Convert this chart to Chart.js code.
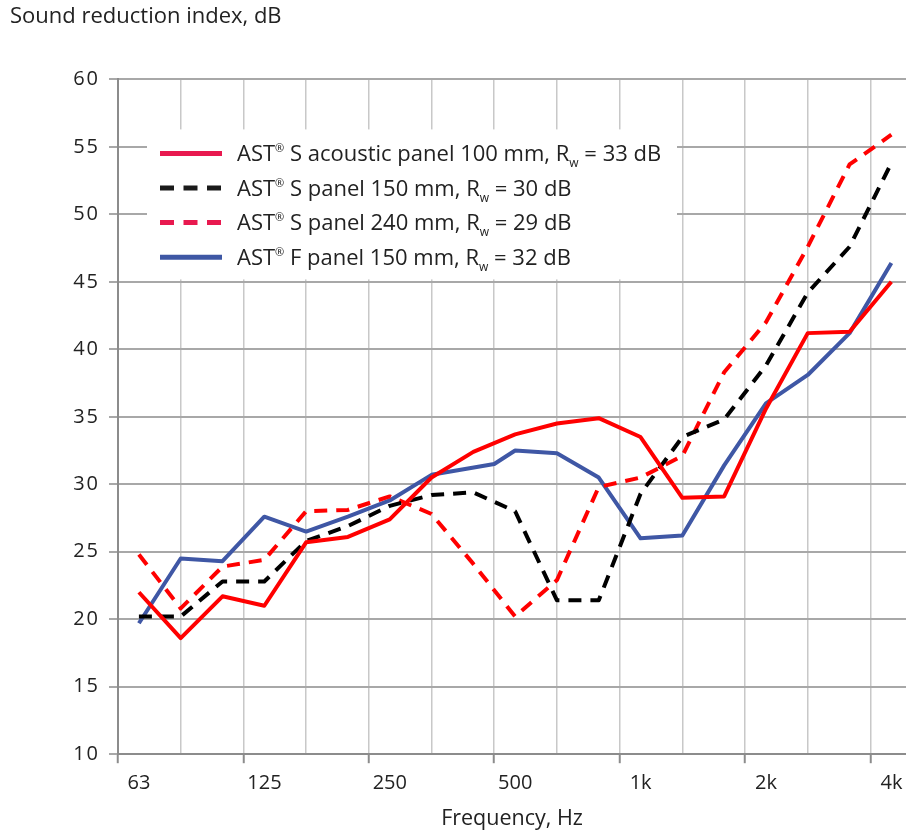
<!DOCTYPE html>
<html>
<head>
<meta charset="utf-8">
<script src="https://cdn.jsdelivr.net/npm/chart.js"></script>
<style>
  html, body { margin: 0; padding: 0; background: #fff; }
</style>
</head>
<body>
<canvas id="chart" width="906" height="832"></canvas>
<script>
// third-octave bands, index 0..18 on the x scale
const frequencies = ['63', '80', '100', '125', '160', '200', '250', '315', '400', '500',
  '630', '800', '1k', '1.25k', '1.6k', '2k', '2.5k', '3.15k', '4k'];
const octaveLabels = ['63', '125', '250', '500', '1k', '2k', '4k'];
const yTicks = [10, 15, 20, 25, 30, 35, 40, 45, 50, 55, 60];

const acoustic100 = [22.0, 18.6, 21.7, 21.0, 25.7, 26.1, 27.4, 30.5, 32.4, 33.7,
  34.5, 34.9, 33.5, 29.0, 29.1, 35.6, 41.2, 41.3, 45.0];
const panel150 = [20.2, 20.2, 22.8, 22.8, 25.8, 26.9, 28.4, 29.2, 29.4, 28.0,
  21.4, 21.4, 29.3, 33.5, 34.8, 38.8, 44.2, 47.6, 53.8];
const panel240 = [24.8, 20.8, 23.9, 24.4, 28.0, 28.1, 29.1, 27.8, 24.1, 20.2,
  22.9, 29.8, 30.5, 32.1, 38.3, 42.0, 47.6, 53.7, 55.9];
// F panel has one reading between 400 and 500 Hz
const fPanelBands = [0, 1, 2, 3, 4, 5, 6, 7, 8.5, 9, 10, 11, 12, 13, 14, 15, 16, 17, 18];
const fPanel150 = [19.7, 24.5, 24.3, 27.6, 26.5, 27.6, 28.8, 30.7, 31.5, 32.5,
  32.3, 30.5, 26.0, 26.2, 31.4, 36.0, 38.1, 41.2, 46.4];

const seriesNames = ['S acoustic panel 100 mm', 'S panel 150 mm', 'S panel 240 mm', 'F panel 150 mm'];
const ratingsRw = [33, 30, 29, 32];

const FONT = '"Open Sans", "Noto Sans", sans-serif';
const TEXT = '#222';
const DASH = [13, 9];

const points = (vals, xs) => vals.map((v, i) => ({ x: xs ? xs[i] : i, y: v }));
const labelOf = i => 'AST® ' + seriesNames[i] + ', Rw = ' + ratingsRw[i] + ' dB';

const datasets = [
  { data: points(acoustic100), borderColor: '#ff0000', borderDash: [], legendColor: '#e8194f' },
  { data: points(panel150), borderColor: '#000000', borderDash: DASH, legendColor: '#1a1a1a' },
  { data: points(panel240), borderColor: '#ff0000', borderDash: DASH, legendColor: '#e8194f' },
  { data: points(fPanel150, fPanelBands), borderColor: '#3f57a5', borderDash: [], legendColor: '#3e57a4' }
].map((d, i) => Object.assign(d, { label: labelOf(i), borderWidth: 4, pointRadius: 0, fill: false }));

// octave ticks sit every 3 bands, half a band left of the label
const isOctave = v => Math.abs(((v + 0.5) / 3) - Math.round((v + 0.5) / 3)) < 1e-6;

// legend inside the plot, with superscript ® and subscript w
const boxLegend = {
  id: 'boxLegend',
  beforeDatasetsDraw(chart) {
    const { ctx, chartArea: a } = chart;
    const left = a.left + 29, top = a.top + 50;
    ctx.save();
    ctx.fillStyle = '#fff';
    ctx.fillRect(left, top, 530, 150);
    chart.data.datasets.forEach((ds, i) => {
      const y = top + 24 + i * 34.6;
      ctx.beginPath();
      ctx.setLineDash(ds.borderDash.length ? [14, 9.5] : []);
      ctx.lineWidth = 5;
      ctx.strokeStyle = ds.legendColor;
      ctx.moveTo(left + 13, y);
      ctx.lineTo(left + 75, y);
      ctx.stroke();
      ctx.setLineDash([]);

      ctx.fillStyle = TEXT;
      ctx.textBaseline = 'alphabetic';
      ctx.textAlign = 'left';
      const base = y + 7.5;
      let x = left + 90;
      const put = (t, size, dy) => {
        ctx.font = size + 'px ' + FONT;
        ctx.fillText(t, x, base + dy);
        x += ctx.measureText(t).width;
      };
      put('AST', 22, 0);
      put('®', 11, -9);
      put(' ' + seriesNames[i] + ', R', 22, 0);
      put('w', 12, 6);
      put(' = ' + ratingsRw[i] + ' dB', 22, 0);
    });
    ctx.restore();
  }
};

// wide letter spacing on the y labels
const spacedY = {
  id: 'spacedY',
  beforeDraw(chart) {
    const s = chart.scales.y;
    if (s._spaced) return;
    const orig = s.drawLabels.bind(s);
    s.drawLabels = function (area) {
      const c = this.ctx;
      c.save();
      c.letterSpacing = '2px';
      orig(area);
      c.restore();
    };
    s._spaced = true;
  }
};

new Chart(document.getElementById('chart'), {
  type: 'line',
  data: { datasets },
  plugins: [boxLegend, spacedY],
  options: {
    responsive: false,
    animation: false,
    events: [],
    layout: { padding: { left: 10, right: 0, top: 0, bottom: 0 } },
    plugins: {
      legend: { display: false },
      tooltip: { enabled: false },
      title: {
        display: true,
        text: 'Sound reduction index, dB',
        align: 'start',
        color: TEXT,
        font: { family: FONT, size: 22, weight: 'normal' },
        padding: { top: 4, bottom: 49 }
      }
    },
    elements: { line: { tension: 0, borderJoinStyle: 'round' } },
    scales: {
      x: {
        type: 'linear',
        min: -0.5,
        max: 18.35,
        afterBuildTicks: s => {
          s.ticks = [];
          for (let v = -0.5; v <= 18.35; v += 1.5) s.ticks.push({ value: v });
        },
        grid: {
          color: '#c8c8c8',
          lineWidth: 1.5,
          tickLength: 9,
          tickWidth: 2,
          tickColor: c => (c.tick && isOctave(c.tick.value)) ? '#8c8c8c' : 'rgba(0,0,0,0)'
        },
        border: { color: '#8c8c8c', width: 2 },
        ticks: {
          autoSkip: false,
          maxRotation: 0,
          labelOffset: 21,
          padding: 8,
          color: TEXT,
          font: { family: FONT, size: 20 },
          callback: v => isOctave(v) ? octaveLabels[Math.round((v + 0.5) / 3)] : ''
        },
        title: {
          display: true,
          text: 'Frequency, Hz',
          color: TEXT,
          font: { family: FONT, size: 21.5 },
          padding: { top: 3, bottom: 0 }
        }
      },
      y: {
        min: yTicks[0],
        max: yTicks[yTicks.length - 1],
        afterFit: s => { s.width = 108; },
        afterBuildTicks: s => { s.ticks = yTicks.map(v => ({ value: v })); },
        grid: { color: '#a8a8a8', lineWidth: 2, tickLength: 9, tickColor: '#a8a8a8' },
        border: { color: '#8c8c8c', width: 2 },
        ticks: {
          padding: 9,
          color: TEXT,
          font: { family: FONT, size: 20 }
        }
      }
    }
  }
});
</script>
</body>
</html>
